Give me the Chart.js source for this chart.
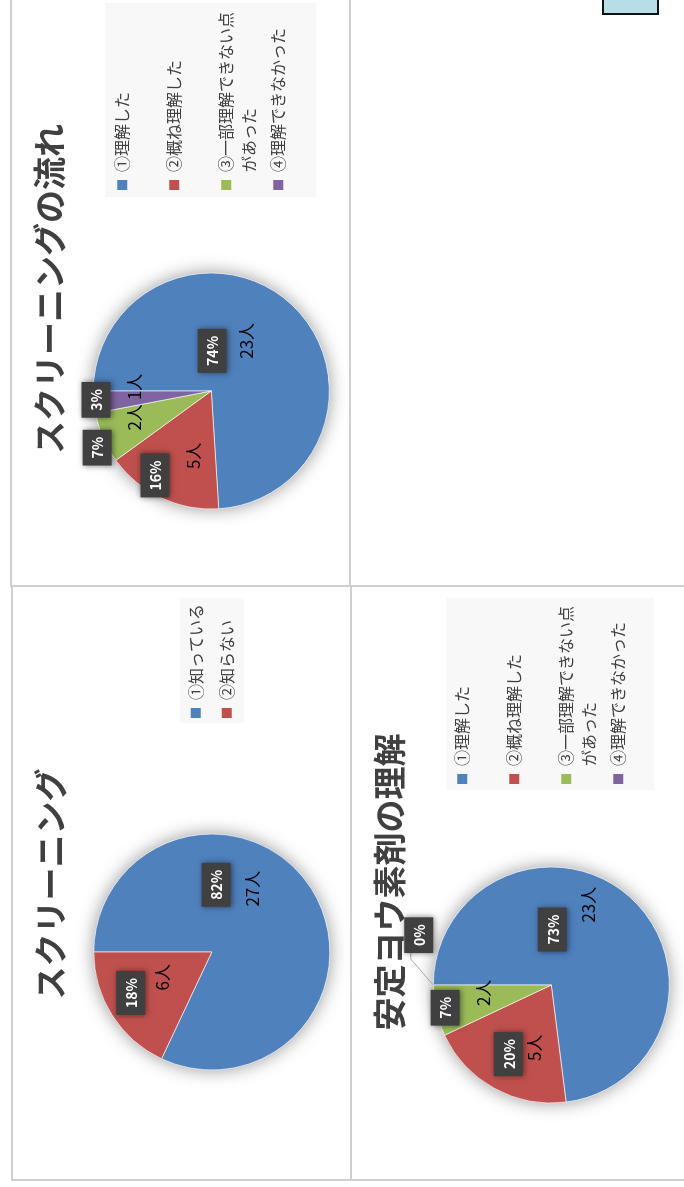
<!DOCTYPE html>
<html lang="ja">
<head>
<meta charset="utf-8">
<title>スクリーニング アンケート集計</title>
<script src="https://cdn.jsdelivr.net/npm/chart.js@4.4.1/dist/chart.umd.min.js"></script>
<style>
  html, body { margin: 0; padding: 0; background: #fff; }
  body { width: 684px; height: 1187px; position: relative; overflow: hidden; }
  .panel { position: absolute; transform: rotate(-90deg); transform-origin: 50% 50%; }
  .panel canvas { display: block; }
  .rule { position: absolute; background: #cfcfcf; z-index: 2; }
  .tag { position: absolute; left: 602px; top: -4px; width: 57px; height: 19px; box-sizing: border-box;
         background: #b7dde8; border: 2px solid #111; z-index: 2; }
</style>
</head>
<body>

<div class="panel" id="p-flow"><canvas id="c-flow"></canvas></div>
<div class="panel" id="p-screen"><canvas id="c-screen"></canvas></div>
<div class="panel" id="p-iodine"><canvas id="c-iodine"></canvas></div>

<div class="rule" style="left:10px;top:0;width:2px;height:587px"></div>
<div class="rule" style="left:349px;top:0;width:2px;height:587px"></div>
<div class="rule" style="left:10px;top:585px;width:674px;height:2px"></div>
<div class="rule" style="left:11px;top:587px;width:2px;height:594px"></div>
<div class="rule" style="left:350px;top:587px;width:2px;height:594px"></div>
<div class="rule" style="left:11px;top:1179px;width:673px;height:2px"></div>
<div class="tag"></div>

<script>
// ── Data ───────────────────────────────────────────────────────────

// スクリーニングの流れ
const flowCategories = ['①理解した', '②概ね理解した', '③一部理解できない点\nがあった', '④理解できなかった'];
const flowPercents = [74, 16, 7, 3];
const flowCounts = [23, 5, 2, 1];

// スクリーニング
const screenCategories = ['①知っている', '②知らない'];
const screenPercents = [82, 18];
const screenCounts = [27, 6];

// 安定ヨウ素剤の理解
const iodineCategories = ['①理解した', '②概ね理解した', '③一部理解できない点\nがあった', '④理解できなかった'];
const iodinePercents = [73, 20, 7, 0];
const iodineCounts = [23, 5, 2, 0];

const sliceColors = ['#4f81bd', '#c0504d', '#9bbb59', '#8064a2'];

// label placement: [degrees away from the slice middle, fraction of radius]
const flowPctPlace = [[-42, 0.34], [8.5, 0.86], [-3, 1.08], [1, 0.98]];
const flowCntPlace = [[-8, 0.52], [-10, 0.57], [4.5, 0.69], [8.5, 0.65]];
const screenPctPlace = [[-54, 0.57], [5.6, 0.77]];
const screenCntPlace = [[-24.6, 0.64], [5.4, 0.47]];
const iodinePctPlace = [[-40.4, 0.47], [3.1, 0.69], [0.5, 0.92], [20.6, 1.2]];
const iodineCntPlace = [[-16.6, 0.75], [-13.7, 0.55], [6, 0.58], [0, 0]];

const FONT = '"Noto Sans CJK JP", "Noto Sans", sans-serif';
const LEGEND_SIZE = 16;
Chart.defaults.font.family = FONT;

// ── Plugins ────────────────────────────────────────────────────────

// soft halo behind the pie
const pieShadow = {
  id: 'pieShadow',
  beforeDatasetsDraw(chart) {
    const ctx = chart.ctx;
    const p = chart.getDatasetMeta(0).data[0].getProps(['x', 'y', 'outerRadius'], true);
    ctx.save();
    ctx.shadowColor = 'rgba(0,0,0,0.42)';
    ctx.shadowBlur = 18;
    ctx.fillStyle = '#ffffff';
    ctx.beginPath();
    ctx.arc(p.x, p.y, p.outerRadius, 0, Math.PI * 2);
    ctx.fill();
    ctx.restore();
  }
};

// percentage boxes + "N人" labels
const sliceLabels = {
  id: 'sliceLabels',
  afterDatasetsDraw(chart, args, opts) {
    const ctx = chart.ctx;
    chart.getDatasetMeta(0).data.forEach(function (arc, i) {
      const p = arc.getProps(['x', 'y', 'startAngle', 'endAngle', 'outerRadius'], true);
      const mid = (p.startAngle + p.endAngle) / 2;
      const at = function (place) {
        const a = mid + place[0] * Math.PI / 180;
        const r = p.outerRadius * place[1];
        return { x: p.x + Math.cos(a) * r, y: p.y + Math.sin(a) * r };
      };

      // percentage in a dark box
      const pc = at(opts.pctPlace[i]);
      ctx.save();
      ctx.font = 'bold 14px ' + FONT;
      const text = opts.percents[i] + '%';
      const w = ctx.measureText(text).width + 14;
      const h = 29;
      if (opts.leaders && opts.leaders[i]) {
        const edge = at([0, 1]);
        ctx.strokeStyle = '#a5a5a5';
        ctx.lineWidth = 1;
        ctx.beginPath();
        ctx.moveTo(edge.x, edge.y);
        ctx.lineTo(pc.x - w / 2 - 6, pc.y - 8);
        ctx.lineTo(pc.x - w / 2, pc.y - 8);
        ctx.stroke();
      }
      ctx.shadowColor = 'rgba(0,0,0,0.5)';
      ctx.shadowBlur = 6;
      ctx.shadowOffsetY = 1;
      ctx.fillStyle = '#404040';
      ctx.fillRect(pc.x - w / 2, pc.y - h / 2, w, h);
      ctx.shadowColor = 'transparent';
      ctx.fillStyle = '#ffffff';
      ctx.textAlign = 'center';
      ctx.textBaseline = 'middle';
      ctx.fillText(text, pc.x, pc.y + 1);
      ctx.restore();

      // head count
      if (opts.counts[i] > 0) {
        const cc = at(opts.cntPlace[i]);
        ctx.save();
        ctx.font = '17px ' + FONT;
        ctx.fillStyle = '#000000';
        ctx.textAlign = 'center';
        ctx.textBaseline = 'middle';
        ctx.fillText(opts.counts[i] + '人', cc.x, cc.y);
        ctx.restore();
      }
    });
  }
};

// fixed legend width so the title centres like the original sheet
const legendWidth = {
  id: 'legendWidth',
  beforeLayout(chart, args, opts) {
    const legend = chart.legend;
    if (!legend || legend._fixedWidth) return;
    const fit = legend.fit;
    legend.fit = function () {
      fit.call(this);
      this.width = opts.width;
    };
    legend._fixedWidth = true;
  }
};

// light grey panel behind the legend
const legendBg = {
  id: 'legendBg',
  beforeDraw(chart, args, opts) {
    const legend = chart.legend;
    if (!legend || !legend.legendHitBoxes || !legend.legendHitBoxes.length) return;
    const boxes = legend.legendHitBoxes;
    const top = boxes[0].top + LEGEND_SIZE / 2 - opts.above;
    const bottom = boxes[boxes.length - 1].top + LEGEND_SIZE / 2 + opts.below;
    const ctx = chart.ctx;
    ctx.save();
    ctx.fillStyle = '#f8f8f8';
    ctx.fillRect(legend.left + opts.left, top, opts.right - opts.left, bottom - top);
    ctx.restore();
  }
};

// ── Build ──────────────────────────────────────────────────────────

function placePanel(id, x0, y0, w, h) {
  const el = document.getElementById(id);
  el.style.left = (x0 + w / 2 - h / 2) + 'px';
  el.style.top = (y0 + h / 2 - w / 2) + 'px';
  el.style.width = h + 'px';
  el.style.height = w + 'px';
}

function makePie(canvasId, title, categories, percents, counts, pctPlace, cntPlace, look) {
  const canvas = document.getElementById(canvasId);
  canvas.width = look.W;
  canvas.height = look.H;

  return new Chart(canvas.getContext('2d'), {
    type: 'pie',
    data: {
      labels: categories,
      datasets: [{
        data: percents,
        backgroundColor: sliceColors.slice(0, percents.length),
        borderColor: 'rgba(255,255,255,0.6)',
        borderWidth: 1,
        radius: 118
      }]
    },
    options: {
      responsive: false,
      animation: false,
      events: [],
      layout: { padding: { left: look.padL, right: look.padR, top: 0, bottom: 0 } },
      plugins: {
        title: {
          display: true,
          text: title,
          color: '#404040',
          font: { size: 33, weight: 'bold', family: FONT, lineHeight: 1.2 },
          padding: { top: 18, bottom: look.titleBottom }
        },
        legend: {
          position: 'right',
          fullSize: false,
          // empty title only nudges the entries down a little
          title: { display: true, text: '', font: { size: 8, lineHeight: 1 }, padding: 0 },
          labels: {
            boxWidth: 10,
            boxHeight: 10,
            padding: 6,
            color: '#404040',
            font: { size: LEGEND_SIZE, family: FONT, lineHeight: look.lineHeight },
            generateLabels: function (chart) {
              const items = Chart.overrides.doughnut.plugins.legend.labels.generateLabels(chart);
              return items.map(function (item) {
                const lines = String(item.text).split('\n');
                while (lines.length < look.lines) lines.push('');
                item.text = lines;
                item.lineWidth = 0;
                return item;
              });
            }
          }
        },
        tooltip: { enabled: false },
        legendWidth: { width: look.legendW },
        legendBg: look.bg,
        sliceLabels: {
          percents: percents,
          counts: counts,
          pctPlace: pctPlace,
          cntPlace: cntPlace,
          leaders: look.leaders
        }
      }
    },
    plugins: [legendWidth, legendBg, pieShadow, sliceLabels]
  });
}

// panels are laid out sideways, as on the scanned sheet
placePanel('p-flow', 12, -14, 338, 600);
placePanel('p-screen', 13, 588, 338, 592);
placePanel('p-iodine', 352, 580, 338, 600);

makePie('c-flow', 'スクリーニングの流れ', flowCategories, flowPercents, flowCounts,
  flowPctPlace, flowCntPlace, {
    W: 600, H: 338, padL: 0, padR: 6, legendW: 204, titleBottom: 3,
    lines: 2, lineHeight: 23 / LEGEND_SIZE,
    bg: { left: -1, right: 193, above: 17, below: 38 }
  });

makePie('c-screen', 'スクリーニング', screenCategories, screenPercents, screenCounts,
  screenPctPlace, screenCntPlace, {
    W: 592, H: 338, padL: 0, padR: 0, legendW: 136, titleBottom: 2,
    lines: 1, lineHeight: 25 / LEGEND_SIZE,
    bg: { left: 1, right: 126, above: 16, below: 17 }
  });

makePie('c-iodine', '安定ヨウ素剤の理解', iodineCategories, iodinePercents, iodineCounts,
  iodinePctPlace, iodineCntPlace, {
    W: 600, H: 338, padL: 0, padR: 4, legendW: 206, titleBottom: 3,
    lines: 2, lineHeight: 23 / LEGEND_SIZE,
    bg: { left: 0, right: 192, above: 16, below: 36 },
    leaders: [false, false, false, true]
  });
</script>
</body>
</html>
